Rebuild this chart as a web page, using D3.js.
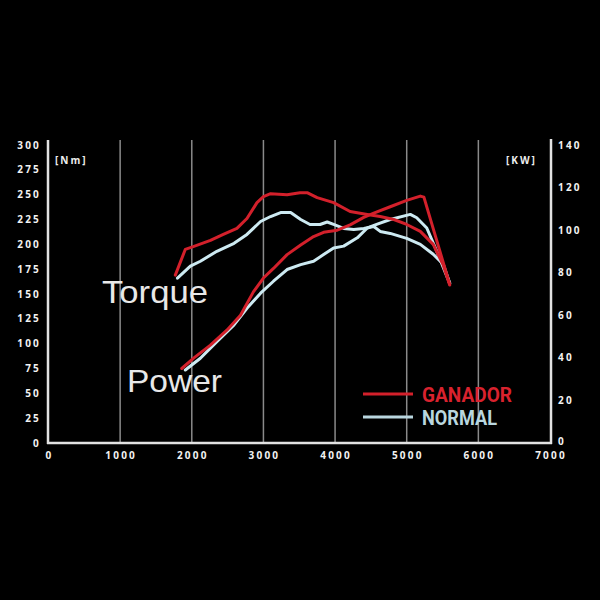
<!DOCTYPE html>
<html>
<head>
<meta charset="utf-8">
<script src="https://cdn.jsdelivr.net/npm/d3@7"></script>
<style>
  html, body { margin: 0; padding: 0; background: #000; }
  svg { display: block; }
</style>
</head>
<body>
<div id="chart"></div>
<script>
// rpm ticks and axis labels
var rpmTicks = [0, 1000, 2000, 3000, 4000, 5000, 6000, 7000];
var nmTicks = [0, 25, 50, 75, 100, 125, 150, 175, 200, 225, 250, 275, 300];
var kwTicks = [0, 20, 40, 60, 80, 100, 120, 140];

// GANADOR torque (Nm)
var ganTorqueRpm = [1770, 1910, 2030, 2260, 2440, 2630, 2770, 2910, 3000, 3100, 3330, 3510, 3610, 3750, 3980, 4210, 4450, 4630, 4820, 5000, 5190, 5370, 5510, 5600];
var ganTorque    = [169, 195, 198, 204, 210, 216, 226, 242, 248, 251, 250, 252, 252, 247, 242, 233, 230, 228, 225, 220, 213, 200, 179, 159];

// NORMAL torque (Nm)
var norTorqueRpm = [1800, 1980, 2120, 2350, 2590, 2770, 2960, 3100, 3240, 3380, 3520, 3650, 3790, 3890, 3980, 4120, 4260, 4400, 4540, 4630, 4770, 5000, 5190, 5370, 5510, 5600];
var norTorque    = [166, 178, 183, 193, 201, 210, 223, 228, 232, 232, 225, 220, 220, 222.5, 220, 216, 215, 216, 218, 213, 211, 206, 200, 190, 180, 161];

// GANADOR power (kW)
var ganPowerRpm = [1860, 2030, 2260, 2490, 2680, 2860, 3000, 3140, 3330, 3520, 3700, 3840, 4030, 4210, 4400, 4540, 4770, 5000, 5190, 5240, 5600];
var ganPower    = [35, 40, 46, 53, 60, 71, 77.5, 82, 88.5, 93, 97, 99, 100, 102.5, 106, 108, 111, 114, 116, 115.5, 74.5];

// NORMAL power (kW)
var norPowerRpm = [1910, 2120, 2350, 2590, 2770, 2960, 3140, 3330, 3520, 3700, 3840, 3980, 4120, 4310, 4450, 4580, 4770, 5050, 5140, 5280, 5420, 5600];
var norPower    = [34.3, 39.8, 47.6, 55.5, 63.3, 70.4, 76, 81.5, 83.8, 85.4, 88.5, 91.6, 92.5, 96.4, 101, 102.7, 105, 107.4, 105.8, 101, 90, 75];

var RED = "#d3202b";
var BLUE = "#cdeaf2";

var width = 600, height = 600;
var svg = d3.select("#chart").append("svg")
    .attr("width", width)
    .attr("height", height)
    .style("background", "#000");

var x = d3.scaleLinear().domain([0, 7000]).range([48.5, 550]);
var yNm = d3.scaleLinear().domain([0, 300]).range([443, 145]);
var yKw = d3.scaleLinear().domain([0, 140]).range([443, 145]);

// vertical grid
svg.append("g").selectAll("line")
    .data(rpmTicks.slice(1, -1))
    .enter().append("line")
    .attr("x1", d => x(d)).attr("x2", d => x(d))
    .attr("y1", 140).attr("y2", 443)
    .attr("stroke", "#8a8a8a")
    .attr("stroke-width", 1.5);

// axis frame
var axisColor = "#e2e2e2";
svg.append("line").attr("x1", 48).attr("x2", 48).attr("y1", 140).attr("y2", 444)
    .attr("stroke", axisColor).attr("stroke-width", 2.5);
svg.append("line").attr("x1", 551).attr("x2", 551).attr("y1", 139).attr("y2", 444)
    .attr("stroke", axisColor).attr("stroke-width", 2.5);
svg.append("line").attr("x1", 47).attr("x2", 552).attr("y1", 443).attr("y2", 443)
    .attr("stroke", axisColor).attr("stroke-width", 2.5);

var tickFont = "'Open Sans', 'DejaVu Sans', sans-serif";

function tickText(sel) {
    sel.attr("fill", "#f2f2f2")
        .style("font-family", tickFont)
        .style("font-weight", 700)
        .style("font-size", "10px")
        .style("letter-spacing", "2.2px");
}

// left tick labels
svg.append("g").selectAll("text")
    .data(nmTicks)
    .enter().append("text")
    .attr("x", 41)
    .attr("y", d => yNm(d))
    .attr("dy", "0.35em")
    .attr("text-anchor", "end")
    .call(tickText)
    .text(d => d);

// right tick labels
svg.append("g").selectAll("text")
    .data(kwTicks)
    .enter().append("text")
    .attr("x", 558)
    .attr("y", d => yKw(d) - (d == 0 ? 2 : 0))
    .attr("dy", "0.35em")
    .attr("text-anchor", "start")
    .call(tickText)
    .text(d => d);

// bottom tick labels
svg.append("g").selectAll("text")
    .data(rpmTicks)
    .enter().append("text")
    .attr("x", d => x(d) + 1)
    .attr("y", 459)
    .attr("text-anchor", "middle")
    .call(tickText)
    .text(d => d);

// units
svg.append("text").attr("x", 55).attr("y", 164)
    .attr("fill", "#eee")
    .style("font-family", tickFont).style("font-weight", 700)
    .style("font-size", "10px").style("letter-spacing", "2px")
    .text("[Nm]");
svg.append("text").attr("x", 506).attr("y", 164)
    .attr("fill", "#eee")
    .style("font-family", tickFont).style("font-weight", 700)
    .style("font-size", "10px").style("letter-spacing", "2px")
    .text("[KW]");

// curves
function drawCurve(rpm, vals, yScale, color) {
    var pts = rpm.map((r, i) => [r, vals[i]]);
    var line = d3.line()
        .x(d => x(d[0]))
        .y(d => yScale(d[1]));
    svg.append("path")
        .datum(pts)
        .attr("d", line)
        .attr("fill", "none")
        .attr("stroke", color)
        .attr("stroke-width", 3)
        .attr("stroke-linejoin", "round")
        .attr("stroke-linecap", "round");
}
drawCurve(norTorqueRpm, norTorque, yNm, BLUE);
drawCurve(norPowerRpm, norPower, yKw, BLUE);
drawCurve(ganTorqueRpm, ganTorque, yNm, RED);
drawCurve(ganPowerRpm, ganPower, yKw, RED);

// big labels
var bigFont = "'Liberation Sans', Arial, sans-serif";
svg.append("text").attr("x", 102).attr("y", 303)
    .attr("fill", "#e8e8e8")
    .attr("textLength", 106)
    .attr("lengthAdjust", "spacingAndGlyphs")
    .style("font-family", bigFont)
    .style("font-size", "32px")
    .text("Torque");
svg.append("text").attr("x", 127).attr("y", 392)
    .attr("fill", "#e8e8e8")
    .attr("textLength", 95)
    .attr("lengthAdjust", "spacingAndGlyphs")
    .style("font-family", bigFont)
    .style("font-size", "32px")
    .text("Power");

// legend
var legend = [
    {name: "GANADOR", color: RED, text: "#d9222e", y: 394},
    {name: "NORMAL", color: "#b9d6df", text: "#b9d6df", y: 417}
];
legend.forEach(function(l) {
    svg.append("line")
        .attr("x1", 363).attr("x2", 413)
        .attr("y1", l.y).attr("y2", l.y)
        .attr("stroke", l.color)
        .attr("stroke-width", 3);
    svg.append("text")
        .attr("x", 422).attr("y", l.y + 7.5)
        .attr("fill", l.text)
        .attr("textLength", l.name == "GANADOR" ? 90 : 75)
        .attr("lengthAdjust", "spacingAndGlyphs")
        .style("font-family", "Roboto, 'Liberation Sans', sans-serif")
        .style("font-weight", 700)
        .style("font-size", "21px")
        .text(l.name);
});
</script>
</body>
</html>
